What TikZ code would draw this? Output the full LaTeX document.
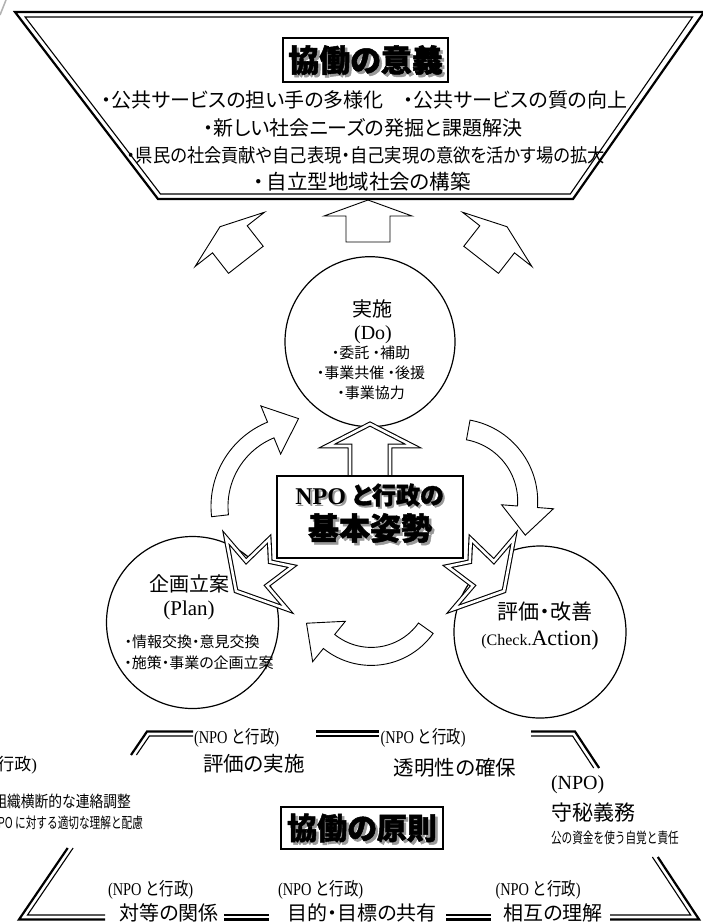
\documentclass[tikz,border=0pt]{standalone}
\usepackage{fontspec}
\setmainfont{Liberation Serif}
\newfontfamily\jp{Noto Sans CJK JP}[RawFeature=+palt]
\newfontfamily\jph{Noto Sans CJK JP}[RawFeature=+palt, BoldFeatures={FakeBold=1.6}]
\newfontfamily\jpr{Noto Sans CJK JP}[RawFeature=+palt, FakeStretch=0.91]
\newfontfamily\jpn{Noto Sans CJK JP}
\newfontfamily\jpc{Noto Sans CJK JP}[FakeStretch=0.8]
\newfontfamily\jpd{Noto Sans CJK JP}[FakeStretch=0.86]
\newfontfamily\jpx{Noto Sans CJK JP}[FakeStretch=0.71]
\newfontfamily\serc{Liberation Serif}[FakeStretch=0.8]
\newcommand\FS[1]{\fontsize{#1pt}{#1pt}\selectfont}
\newcommand\npogyo{{\serc\FS{18}(NPO {\jpc と行政})}}
% block arrow, tip at (0,0), pointing up before rotation
\newcommand\blockup[3]{\draw[blk, shift={(#1,#2)}, rotate=#3] (0,0) -- (44,16) -- (22,16) -- (22,42) -- (-22,42) -- (-22,16) -- (-44,16) -- cycle;}
% notched double-outline arrow
\newcommand\notcharr[3]{\draw[dbl, shift={(#1,#2)}, rotate=#3] (0,0) -- (47,27) -- (16,27) -- (18,59) -- (0,45) -- (-18,59) -- (-16,27) -- (-47,27) -- cycle;}
% curved arrow: cx cy Rmid halfband phi0 phi1 halfspan headlen
\newcommand\curvarr[8]{%
  \draw[blk] plot[domain=#5:#6, samples=40] ({#1+(#3-#4)*cos(\x)},{#2+(#3-#4)*sin(\x)})
    -- ({#1+(#3-#7)*cos(#6)},{#2+(#3-#7)*sin(#6)})
    -- ({#1+#3*cos(#6)-#8*sin(#6)},{#2+#3*sin(#6)+#8*cos(#6)})
    -- ({#1+(#3+#7)*cos(#6)},{#2+(#3+#7)*sin(#6)})
    -- plot[domain=#6:#5, samples=40] ({#1+(#3+#4)*cos(\x)},{#2+(#3+#4)*sin(\x)})
    -- cycle;}
\begin{document}
\begin{tikzpicture}[x=1pt,y=-1pt,
  every node/.style={inner sep=0pt, outer sep=0pt},
  frameO/.style={line width=2.2pt, line join=miter},
  frameI/.style={line width=1.1pt, line join=miter},
  blk/.style={draw, fill=white, line width=0.9pt, line join=miter},
  dbl/.style={draw, line width=1.1pt, double=white, double distance=2.6pt, fill=white, line join=miter, miter limit=20},
  ring/.style={circle, draw, line width=1.2pt, minimum size=#1},
  titlebox/.style={draw, line width=1.5pt, fill=white},
  shade/.style={text=black!40}]
\useasboundingbox (0,0) rectangle (703,922);
\fill[white] (0,0) rectangle (703,922);
\clip (0,0) rectangle (703,922);
\draw[black!30, line width=1.5pt] (0,15) -- (6,0);

% ---------- top trapezoid ----------
\draw[frameO] (15,12) -- (704,12) -- (573,199) -- (158,199) -- cycle;
\draw[frameI] (25.1,17) -- (692.5,17) -- (570.3,194) -- (160.5,194) -- cycle;
\node[titlebox, minimum width=165pt, minimum height=44pt] (igibox) at (365.5,60) {};
\node[shade] (igish) at (368,62.5) {\jph\bfseries\FS{31}協働の意義};
\node (igi) at (365.5,60) {\jph\bfseries\FS{31}協働の意義};
\node (r1) at (364.5,100) {\jp\FS{20}・公共サービスの担い手の多様化　・公共サービスの質の向上};
\node (r2) at (363,128) {\jp\FS{20}・新しい社会ニーズの発掘と課題解決};
\node (r3) at (366,155) {\jpr\FS{19}・県民の社会貢献や自己表現・自己実現の意欲を活かす場の拡大};
\node (r4) at (362,182) {\jp\FS{20.5}・\hspace{3pt}自立型地域社会の構築};

% ---------- upward arrows ----------
\blockup{368}{200}{0}
\blockup{220}{226.7}{38}
\blockup{507}{226.7}{-38}

% ---------- circles ----------
\node[ring=170pt] (doC) at (370,341.7) {};
\node (doT1) at (372,309) {\jp\FS{20}実施};
\node (doT2) at (373,335) {\FS{20}(Do)};
\node (doT3) at (371,353) {\jp\FS{15}・委託 ・補助};
\node (doT4) at (371,373) {\jp\FS{15}・事業共催 ・後援};
\node (doT5) at (371,393) {\jp\FS{15}・事業協力};

\node[ring=172pt] (planC) at (192.5,622.5) {};
\node (planT1) at (189,584) {\jp\FS{20}企画立案};
\node (planT2) at (189,610) {\FS{21}(Plan)};
\node (planT3) at (192,642) {\jp\FS{15}・情報交換・意見交換};
\node (planT4) at (199,663) {\jp\FS{15}・施策・事業の企画立案};

\node[ring=172pt] (chkC) at (540,632) {};
\node (chkT1) at (545,612) {\jp\FS{21}評価・改善};
\node (chkT2) at (540,640) {{\FS{16}(Check.}{\FS{22}Action)}};

% ---------- cycle arrows ----------
\curvarr{302.1}{506.4}{82.6}{8.5}{-186.5}{-112.3}{26}{30}
\curvarr{455.3}{501.2}{72.4}{10}{-79.7}{4.4}{26}{28.5}
\curvarr{371.2}{589.4}{67}{9}{35.4}{129}{26}{29}

% ---------- centre ----------
\draw[dbl] (370,424) -- (413,446) -- (390,446) -- (390,490) -- (350,490) -- (350,446) -- (327,446) -- cycle;
\notcharr{236}{591}{130.5}
\notcharr{504}{591}{-130.5}
\node[draw, fill=white, line width=1.2pt, minimum width=186pt, minimum height=82pt] (kbox) at (370,517) {};
\node[shade] (k1sh) at (371.5,497) {\bfseries\FS{24}NPO {\jph と行政の}};
\node (k1) at (369.5,495) {\bfseries\FS{24}NPO {\jph と行政の}};
\node[shade] (k2sh) at (372.5,530.5) {\jph\bfseries\FS{31}基本姿勢};
\node (k2) at (370,528) {\jph\bfseries\FS{31}基本姿勢};

% ---------- bottom frame ----------
\draw[frameO] (131,755) -- (147,731.5) -- (193,731.5);
\draw[frameO] (316,731.5) -- (379,731.5);
\draw[frameO] (531,731.5) -- (575,731.5) -- (599.1,768);
\draw[frameO] (67.7,848) -- (19,919.5) -- (105,919.5);
\draw[frameO] (224,919.5) -- (269,919.5);
\draw[frameO] (446,919.5) -- (491,919.5);
\draw[frameO] (610,919.5) -- (699.1,919.5) -- (657.8,857);
\draw[frameI] (136.4,755) -- (149.4,736) -- (193,736);
\draw[frameI] (316,736) -- (379,736);
\draw[frameI] (531,736) -- (572.6,736) -- (593.7,768);
\draw[frameI] (73.1,848) -- (27.5,915) -- (105,915);
\draw[frameI] (224,915) -- (269,915);
\draw[frameI] (446,915) -- (491,915);
\draw[frameI] (610,915) -- (690.7,915) -- (652.4,857);

\node[titlebox, minimum width=162pt, minimum height=42pt] (genbox) at (362,828) {};
\node[shade] (gensh) at (364.5,830.5) {\jph\bfseries\FS{30}協働の原則};
\node (gen) at (362,828) {\jph\bfseries\FS{30}協働の原則};

\node[anchor=west] (l1) at (194,738) {\npogyo};
\node (l1b) at (254,764) {\jp\FS{20.5}評価の実施};
\node[anchor=west] (l2) at (380.5,738) {\npogyo};
\node (l2b) at (455,768) {\jp\FS{20.5}透明性の確保};

\node[anchor=east] (gy) at (37,765) {\FS{17}({\jpn 行政})};
\node[anchor=east] (gy1) at (131,801.5) {\jpd\FS{16}・組織横断的な連絡調整};
\node[anchor=east] (gy2) at (143,823) {\jpx\FS{15}・NPO に対する適切な理解と配慮};

\node[anchor=west] (np) at (551,785) {\FS{20}(NPO)};
\node[anchor=west] (np1) at (551,812) {\jp\FS{21}守秘義務};
\node[anchor=west] (np2) at (551,838) {\jpx\FS{15}公の資金を使う自覚と責任};

\node[anchor=west] (b1) at (108,890) {\npogyo};
\node (b1b) at (169,913) {\jp\FS{20}対等の関係};
\node[anchor=west] (b2) at (278,890) {\npogyo};
\node (b2b) at (362,913) {\jp\FS{20}目的・目標の共有};
\node[anchor=west] (b3) at (495.5,890) {\npogyo};
\node (b3b) at (553,913) {\jp\FS{20}相互の理解};
\end{tikzpicture}
\end{document}
